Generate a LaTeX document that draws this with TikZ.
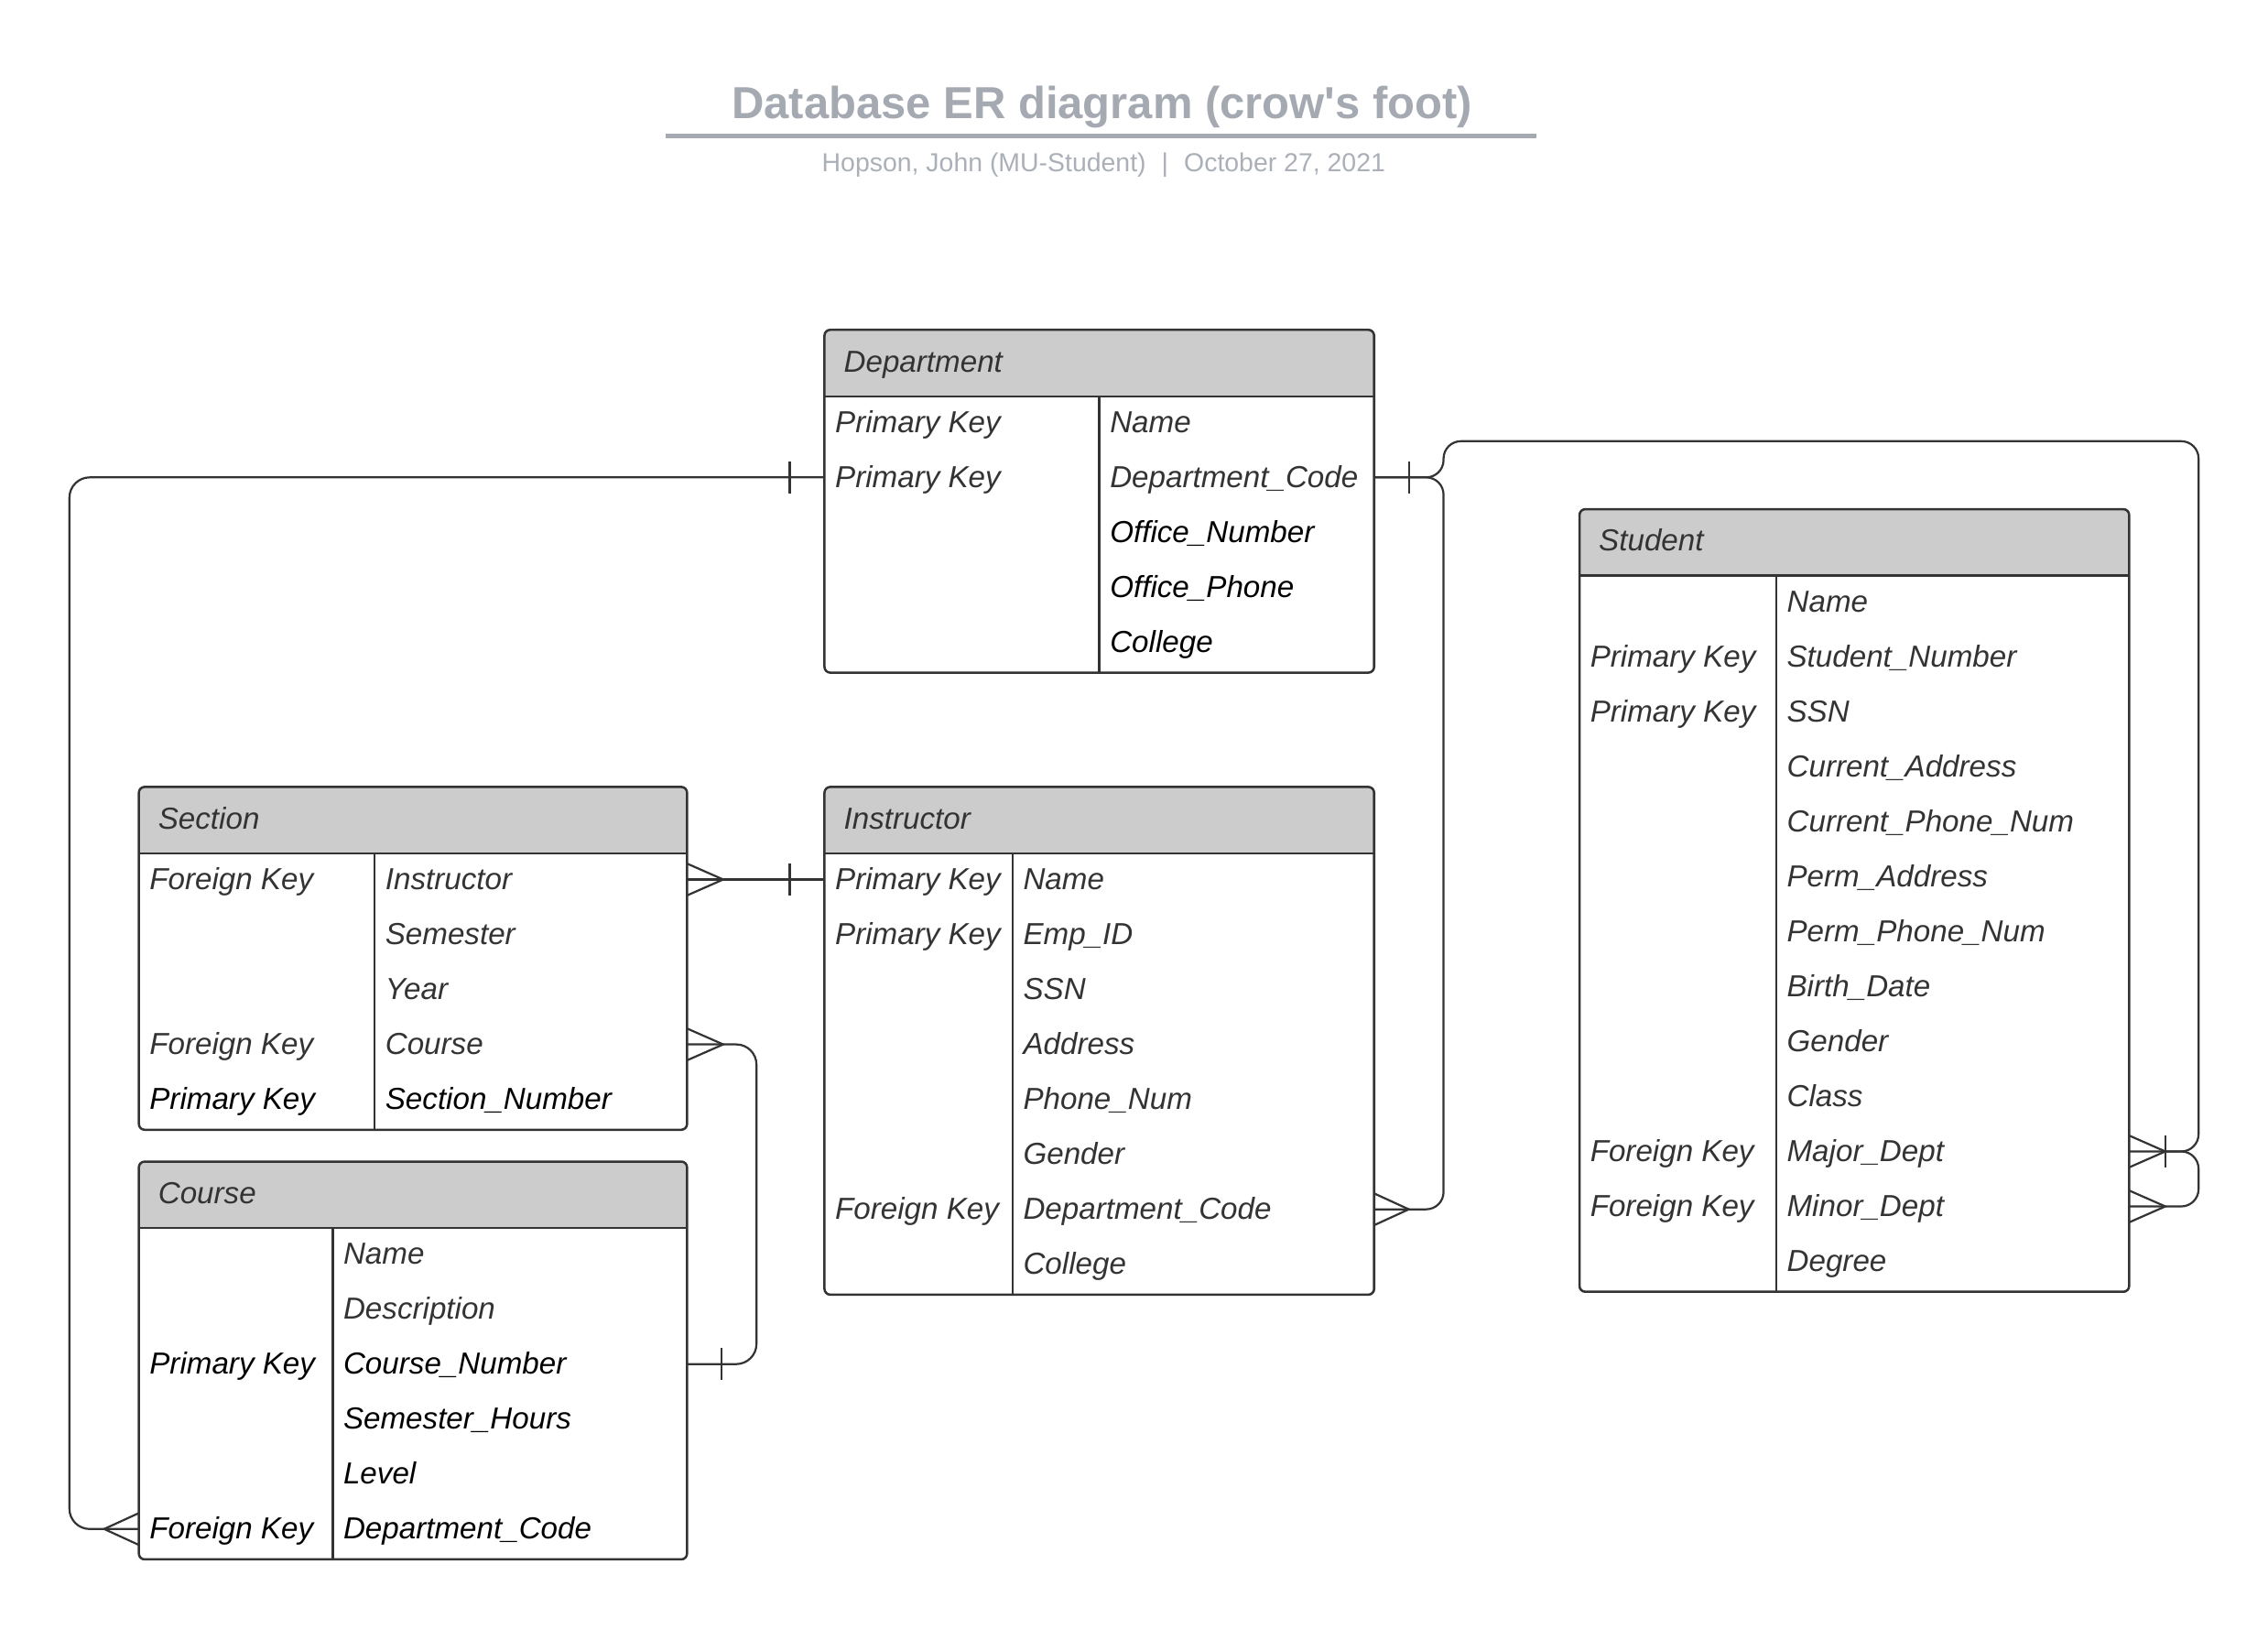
\documentclass[tikz,border=0pt]{standalone}
\usepackage{fontspec}
\setmainfont{Liberation Sans}
\newfontfamily\titlefont{Liberation Sans}
\definecolor{txt}{HTML}{333333}
\definecolor{headgray}{HTML}{CCCCCC}
\definecolor{titlegray}{HTML}{A4A9B2}
\definecolor{subgray}{HTML}{ABB0B8}
\begin{document}
\begin{tikzpicture}[
      x=0.5pt, y=-0.5pt, % one unit = one pixel of the layout
      table frame/.style={draw=txt, line width=0.8pt},
      er link/.style={draw=txt, line width=0.7pt},
      row box/.style={inner sep=0pt, outer sep=0pt, minimum height=19pt},
      key text/.style={anchor=base west, yshift=-3.5pt, inner sep=0pt, font=\fontsize{10.5}{12}\selectfont\itshape},
      head text/.style={key text, text=txt}
    ]
    \useasboundingbox (0,0) rectangle (1568,1126);

    % Title
    \node[text=titlegray, font=\fontsize{15.5}{18}\selectfont\titlefont\bfseries] (title) at (762,74) {Database ER diagram (crow's foot)};
    \draw[titlegray, line width=1.5pt] (460,94) -- (1062,94);
    \node[text=subgray, font=\fontsize{9}{11}\selectfont] (subtitle) at (763,114) {Hopson, John (MU-Student)\hspace{0.6em}|\hspace{0.6em}October 27, 2021};

    % Department
    \fill[headgray, rounded corners=2pt] (570,228) rectangle (950,285);
    \fill[white] (570,274) rectangle (950,290);
    \draw[table frame, rounded corners=2pt] (570,228) rectangle (950,465);
    \draw[table frame] (570,274) -- (950,274) (760,274) -- (760,465);
    \node[head text] (dept) at (583,228+22) {Department};
    \foreach \k/\a/\c [count=\i] in {Primary Key/Name/txt, Primary Key/Department\_Code/txt,
        {}/Office\_Number/black, {}/Office\_Phone/black, {}/College/black} {
        \pgfmathsetmacro{\y}{273+38*\i-19}
        \node[row box, minimum width=190pt] (dept-\i) at (760,\y) {};
        \node[key text, text=\c] at (577,\y) {\k};
        \node[key text, text=\c] at (767,\y) {\a};
      }

    % Student
    \fill[headgray, rounded corners=2pt] (1092,352) rectangle (1472,409);
    \fill[white] (1092,398) rectangle (1472,414);
    \draw[table frame, rounded corners=2pt] (1092,352) rectangle (1472,893);
    \draw[table frame] (1092,398) -- (1472,398) (1228,398) -- (1228,893);
    \node[head text] (stu) at (1105,352+22) {Student};
    \foreach \k/\a/\c [count=\i] in {{}/Name/txt, Primary Key/Student\_Number/txt, Primary Key/SSN/txt,
        {}/Current\_Address/txt, {}/Current\_Phone\_Num/txt, {}/Perm\_Address/txt, {}/Perm\_Phone\_Num/txt,
        {}/Birth\_Date/txt, {}/Gender/txt, {}/Class/txt, Foreign Key/Major\_Dept/txt,
        Foreign Key/Minor\_Dept/txt, {}/Degree/txt} {
        \pgfmathsetmacro{\y}{397+38*\i-19}
        \node[row box, minimum width=190pt] (stu-\i) at (1282,\y) {};
        \node[key text, text=\c] at (1099,\y) {\k};
        \node[key text, text=\c] at (1235,\y) {\a};
      }

    % Section
    \fill[headgray, rounded corners=2pt] (96,544) rectangle (475,601);
    \fill[white] (96,590) rectangle (475,606);
    \draw[table frame, rounded corners=2pt] (96,544) rectangle (475,781);
    \draw[table frame] (96,590) -- (475,590) (259,590) -- (259,781);
    \node[head text] (sec) at (109,544+22) {Section};
    \foreach \k/\a/\c [count=\i] in {Foreign Key/Instructor/txt, {}/Semester/txt, {}/Year/txt,
        Foreign Key/Course/txt, Primary Key/Section\_Number/black} {
        \pgfmathsetmacro{\y}{589+38*\i-19}
        \node[row box, minimum width=189.5pt] (sec-\i) at (285.5,\y) {};
        \node[key text, text=\c] at (103,\y) {\k};
        \node[key text, text=\c] at (266,\y) {\a};
      }

    % Instructor
    \fill[headgray, rounded corners=2pt] (570,544) rectangle (950,601);
    \fill[white] (570,590) rectangle (950,606);
    \draw[table frame, rounded corners=2pt] (570,544) rectangle (950,895);
    \draw[table frame] (570,590) -- (950,590) (700,590) -- (700,895);
    \node[head text] (inst) at (583,544+22) {Instructor};
    \foreach \k/\a/\c [count=\i] in {Primary Key/Name/txt, Primary Key/Emp\_ID/txt, {}/SSN/txt,
        {}/Address/txt, {}/Phone\_Num/txt, {}/Gender/txt, Foreign Key/Department\_Code/txt, {}/College/txt} {
        \pgfmathsetmacro{\y}{589+38*\i-19}
        \node[row box, minimum width=190pt] (inst-\i) at (760,\y) {};
        \node[key text, text=\c] at (577,\y) {\k};
        \node[key text, text=\c] at (707,\y) {\a};
      }

    % Course
    \fill[headgray, rounded corners=2pt] (96,803) rectangle (475,860);
    \fill[white] (96,849) rectangle (475,865);
    \draw[table frame, rounded corners=2pt] (96,803) rectangle (475,1078);
    \draw[table frame] (96,849) -- (475,849) (230,849) -- (230,1078);
    \node[head text] (course) at (109,803+22) {Course};
    \foreach \k/\a/\c [count=\i] in {{}/Name/txt, {}/Description/txt, Primary Key/Course\_Number/black,
        {}/Semester\_Hours/black, {}/Level/black, Foreign Key/Department\_Code/black} {
        \pgfmathsetmacro{\y}{848+38*\i-19}
        \node[row box, minimum width=189.5pt] (course-\i) at (285.5,\y) {};
        \node[key text, text=\c] at (103,\y) {\k};
        \node[key text, text=\c] at (237,\y) {\a};
      }

    % Rails for the routed links
    \coordinate (rail-l) at (48,0);
    \coordinate (rail-s) at (523,0);
    \coordinate (rail-d) at (998,0);
    \coordinate (rail-r) at (1520,0);
    \coordinate (rail-top) at (0,305);

    % Department -- Course
    \draw[er link, rounded corners=7pt] (dept-2.west) -- (dept-2.west -| rail-l) -- (rail-l |- course-6.west) -- (course-6.west);
    \draw[er link] ([shift={(-24,-11)}]dept-2.west) -- ++(0,22);
    \draw[er link] ([shift={(0,-11)}]course-6.west) -- ++(-24,11) -- ++(24,11);

    % Section -- Instructor
    \draw[er link] (sec-1.east) -- (inst-1.west);
    \draw[er link] ([shift={(0,-11)}]sec-1.east) -- ++(25,11) -- ++(-25,11);
    \draw[er link] ([shift={(-24,-11)}]inst-1.west) -- ++(0,22);

    % Section -- Course
    \draw[er link, rounded corners=7pt] (sec-4.east) -- (sec-4.east -| rail-s) -- (rail-s |- course-3.east) -- (course-3.east);
    \draw[er link] ([shift={(0,-11)}]sec-4.east) -- ++(25,11) -- ++(-25,11);
    \draw[er link] ([shift={(24,-11)}]course-3.east) -- ++(0,22);

    % Department -- Student and Department -- Instructor
    \draw[er link, rounded corners=6pt] (dept-2.east) -- (dept-2.east -| rail-d) -- (rail-d |- rail-top)
        -- (rail-r |- rail-top) -- (rail-r |- stu-11.east) -- (stu-11.east);
    \draw[er link, rounded corners=6pt] (dept-2.east) -- (dept-2.east -| rail-d) -- (rail-d |- inst-7.east) -- (inst-7.east);
    \draw[er link, rounded corners=6pt] ([xshift=12pt]stu-11.east) -- (rail-r |- stu-11.east) -- (rail-r |- stu-12.east) -- (stu-12.east);
    \draw[er link] ([shift={(24,-11)}]dept-2.east) -- ++(0,22);
    \draw[er link] ([shift={(0,-11)}]inst-7.east) -- ++(24,11) -- ++(-24,11);
    \draw[er link] ([shift={(0,-11)}]stu-11.east) -- ++(25,11) -- ++(-25,11);
    \draw[er link] ([shift={(25,-11)}]stu-11.east) -- ++(0,22);
    \draw[er link] ([shift={(0,-11)}]stu-12.east) -- ++(25,11) -- ++(-25,11);

  \end{tikzpicture}
\end{document}
